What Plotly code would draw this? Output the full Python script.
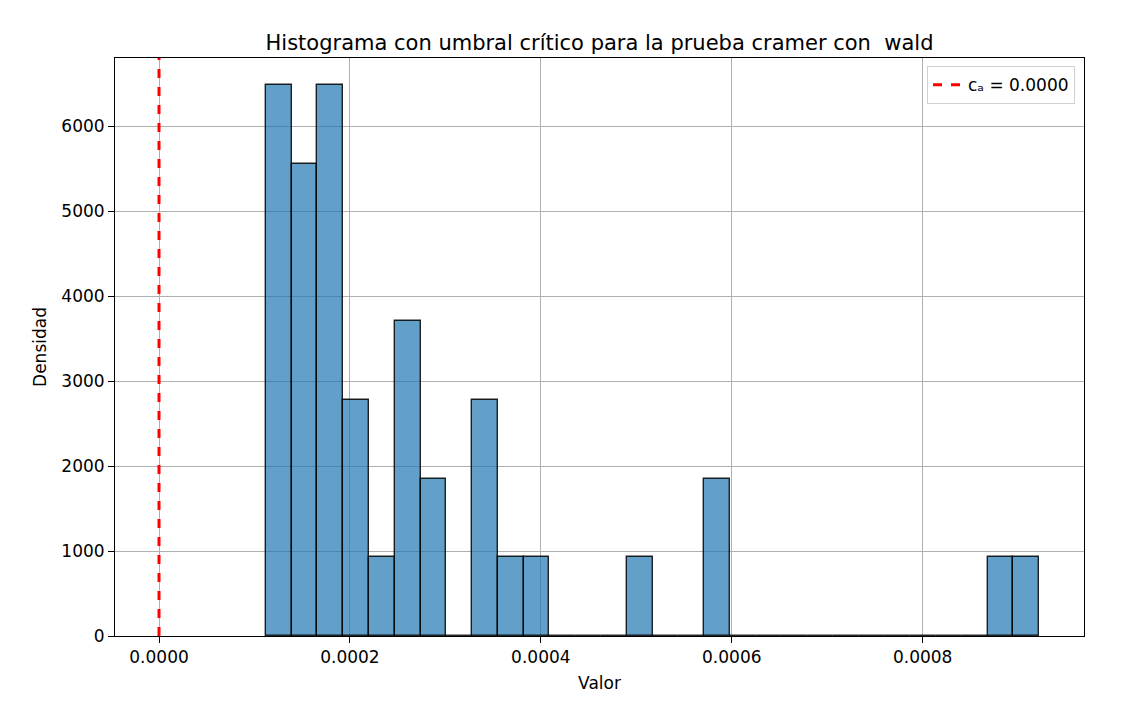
import plotly.graph_objects as go

# histogram bins (30 bins) and counts
bin_start = 0.000112
bin_width = 0.000027
counts = [7, 6, 7, 3, 1, 4, 2, 0, 3, 1,
          1, 0, 0, 0, 1, 0, 0, 2, 0, 0,
          0, 0, 0, 0, 0, 0, 0, 0, 1, 1]
n_total = sum(counts)
critical_value = 0.0
x_ticks = [0.0, 0.0002, 0.0004, 0.0006, 0.0008]
y_ticks = [0, 1000, 2000, 3000, 4000, 5000, 6000]

centers = [bin_start + (i + 0.5) * bin_width for i in range(len(counts))]
density = [c / (n_total * bin_width) for c in counts]

FONT = "DejaVu Sans"
y_max = 6800

fig = go.Figure()

fig.add_trace(go.Bar(
    x=centers,
    y=density,
    width=bin_width,
    marker=dict(color="rgba(31,119,180,0.7)",
                line=dict(color="rgba(0,0,0,0.85)", width=1.4)),
    showlegend=False,
    hoverinfo="skip",
))

# critical threshold line
fig.add_trace(go.Scatter(
    x=[critical_value, critical_value],
    y=[0, y_max],
    mode="lines",
    line=dict(color="red", width=3, dash="dash"),
    name=f"cₐ = {critical_value:.4f}",
))

# page body adds an 8px offset, so the figure is a bit smaller
fig.update_layout(
    width=1138,
    height=712,
    margin=dict(l=107, r=62, t=50, b=84),
    paper_bgcolor="white",
    plot_bgcolor="white",
    font=dict(family=FONT, size=17, color="black"),
    title=dict(
        text="Histograma con umbral crítico para la prueba cramer con  wald",
        x=0.5, xanchor="center",
        xref="paper", yref="paper", y=1, yanchor="bottom",
        pad=dict(b=8),
        font=dict(family=FONT, size=21, color="black"),
    ),
    bargap=0,
    legend=dict(
        x=0.9907, y=0.986, xanchor="right", yanchor="top",
        bgcolor="rgba(255,255,255,0.8)",
        bordercolor="#d0d0d0", borderwidth=1,
        font=dict(family=FONT, size=17),
    ),
)

fig.update_xaxes(
    range=[-0.0000461, 0.000969],
    tickvals=x_ticks,
    tickformat=".4f",
    ticks="outside", ticklen=6, tickcolor="black", tickwidth=1,
    showline=True, linecolor="black", linewidth=1, mirror=True,
    showgrid=True, gridcolor="#b0b0b0", gridwidth=1,
    zeroline=False,
    title=dict(text="Valor", standoff=10, font=dict(size=17)),
    tickfont=dict(size=17),
)
fig.update_yaxes(
    range=[0, y_max],
    tickvals=y_ticks,
    ticks="outside", ticklen=6, tickcolor="black", tickwidth=1,
    showline=True, linecolor="black", linewidth=1, mirror=True,
    showgrid=True, gridcolor="#b0b0b0", gridwidth=1,
    zeroline=False,
    title=dict(text="Densidad", standoff=10, font=dict(size=17)),
    tickfont=dict(size=17),
)

fig.write_html("out.html")
